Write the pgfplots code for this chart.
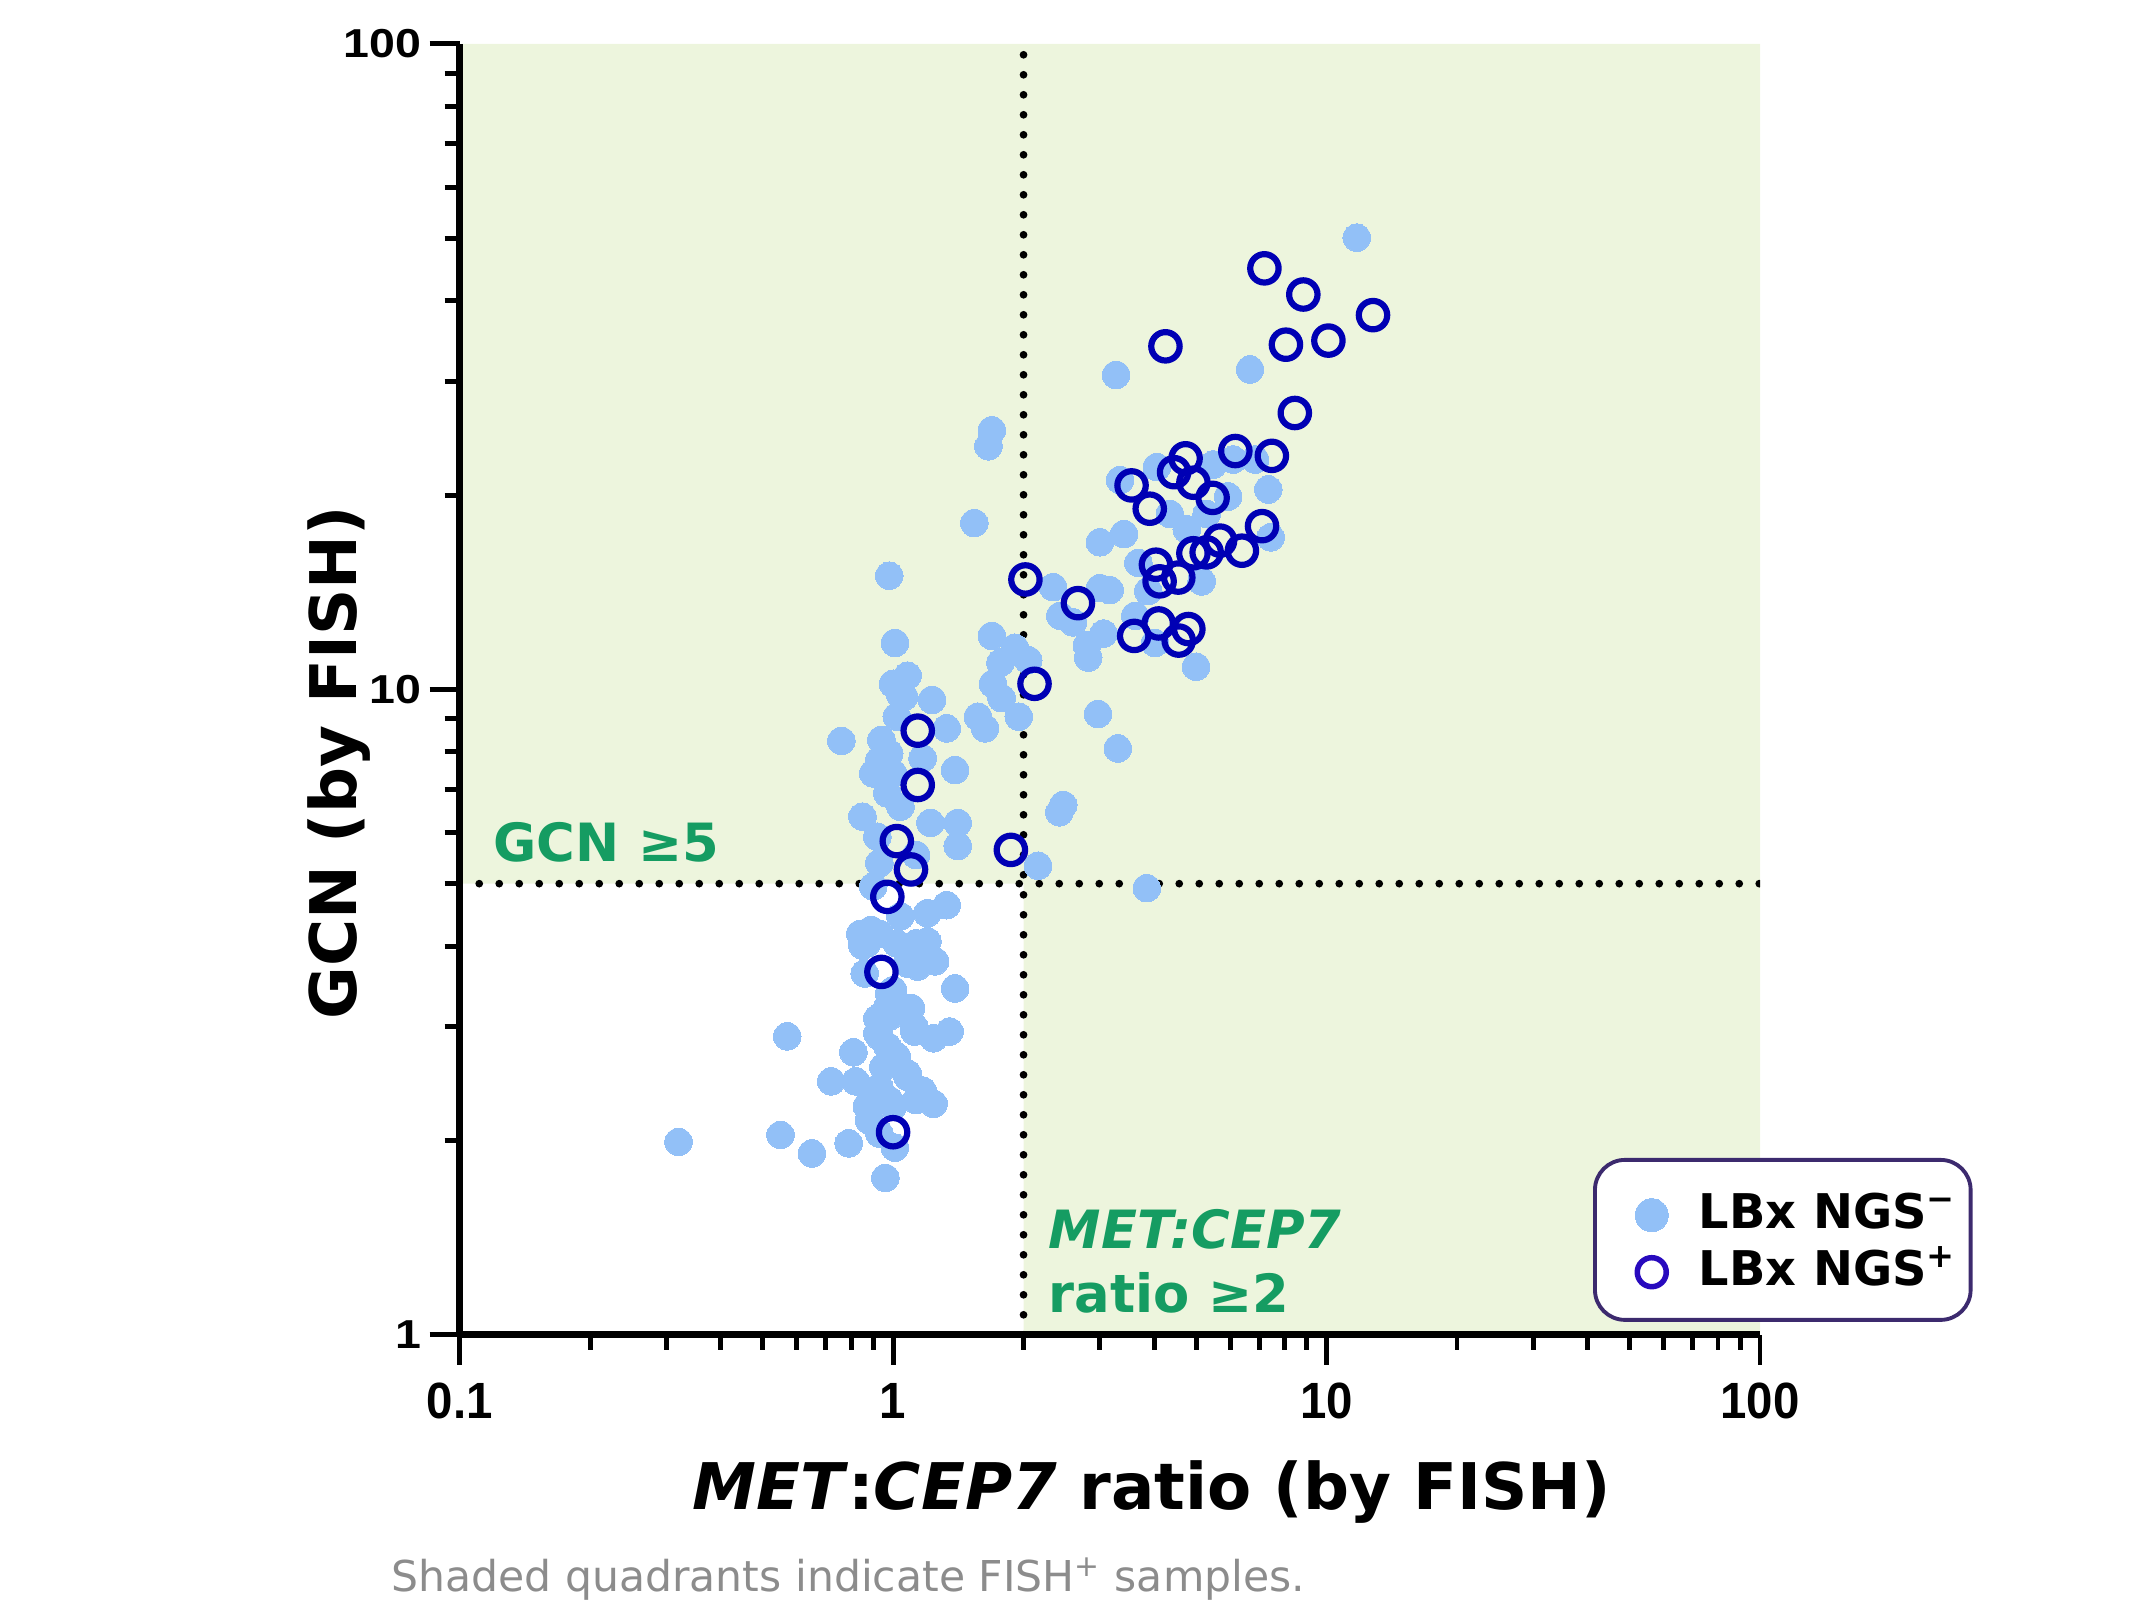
\documentclass[border=0pt]{standalone}
\usepackage{fontspec}
\setmainfont{DejaVu Sans}[BoldFont={DejaVu Sans Bold}, ItalicFont={DejaVu Sans Oblique}, BoldItalicFont={DejaVu Sans Bold Oblique}]
\newfontfamily\xarial{Liberation Sans}[FakeStretch=0.93]
\newfontfamily\yarial{Liberation Sans}[FakeStretch=1.15]
\usepackage{pgfplots}
\usepackage{pgfplotstable}
\pgfplotsset{compat=1.18}

\definecolor{shade}{RGB}{237,245,221}
\definecolor{ngsneg}{RGB}{146,192,247}
\definecolor{ngspos}{RGB}{0,0,180}
\definecolor{legpos}{RGB}{40,10,190}
\definecolor{legborder}{RGB}{60,42,110}
\definecolor{fishgreen}{RGB}{21,156,98}
\definecolor{footgray}{RGB}{140,140,140}

\newcommand\xtickfont{\xarial\bfseries\fontsize{14.5}{17}\selectfont}
\newcommand\ytickfont{\yarial\bfseries\fontsize{11.5}{13}\selectfont}
\newcommand\labfont{\bfseries\fontsize{18.3}{22}\selectfont}
\newcommand\annfont{\bfseries\fontsize{15}{18}\selectfont}

% LBx NGS- (filled)
\pgfplotstableread{
x y
0.32 1.99
0.55 2.04
0.65 1.91
0.79 1.98
0.96 1.75
0.57 2.90
0.72 2.47
0.81 2.74
0.82 2.47
1.01 1.95
0.88 2.15
1.24 2.28
1.17 2.39
1.08 2.54
0.93 2.42
0.87 2.26
0.98 2.31
1.35 2.95
1.24 2.88
1.12 2.95
0.97 2.80
0.93 2.90
1.10 3.21
0.98 3.11
0.92 3.09
1.39 3.44
0.86 3.63
1.00 3.42
0.87 4.04
0.89 4.24
1.20 4.07
1.25 3.79
1.14 3.72
1.33 4.63
1.20 4.50
1.04 4.45
1.13 4.04
1.02 4.04
0.93 4.18
1.08 3.76
0.98 3.38
0.97 3.22
1.12 3.00
0.92 2.93
1.02 2.70
0.95 2.60
1.08 2.51
1.00 2.26
0.90 2.31
1.13 2.31
0.93 2.05
0.84 4.18
0.85 4.01
0.98 15.0
1.01 11.8
1.08 10.5
1.00 10.2
1.06 9.74
1.23 9.63
1.02 9.07
1.33 8.70
0.76 8.32
0.94 8.35
0.98 7.96
1.17 7.82
1.39 7.50
1.00 7.41
0.97 6.90
0.85 6.35
1.04 6.58
1.22 6.21
1.41 6.21
1.41 5.72
0.92 5.91
0.93 5.38
0.90 4.95
1.13 5.54
0.90 7.41
0.93 7.77
1.04 9.80
1.69 12.1
1.91 11.6
1.77 11.0
2.05 11.1
1.70 10.2
1.78 9.69
1.57 9.07
1.63 8.70
1.95 9.07
2.97 9.16
3.30 8.10
2.47 6.62
2.42 6.45
2.16 5.33
3.85 4.92
2.34 14.4
3.00 14.35
2.43 13.0
2.60 12.7
3.06 12.2
2.80 11.7
2.82 11.2
3.27 30.7
6.66 31.3
4.06 22.1
3.34 21.1
5.48 22.3
6.09 22.7
6.84 22.7
7.34 20.4
5.93 19.9
5.29 18.7
4.35 18.7
4.76 17.7
3.00 16.9
3.41 17.4
3.68 15.7
7.43 17.2
5.15 14.7
3.88 14.2
3.16 14.25
3.62 13.0
4.02 11.8
5.00 10.84
1.69 25.2
1.66 23.8
1.54 18.1
11.74 50.1
}\negdata

% LBx NGS+ (open)
\pgfplotstableread{
x y
2.02 14.8
2.67 13.6
2.12 10.2
1.14 8.63
1.14 7.11
1.02 5.82
1.10 5.26
0.97 4.77
1.87 5.64
0.94 3.65
1.00 2.06
4.25 34.0
8.06 34.2
10.1 34.7
12.8 38.0
7.19 44.9
8.84 40.9
8.45 26.8
6.16 23.4
7.48 23.0
4.73 22.8
4.45 21.7
3.55 20.7
4.93 20.9
5.46 19.8
3.91 19.05
7.10 17.9
6.38 16.4
5.68 17.0
5.29 16.3
4.93 16.25
4.04 15.6
4.12 14.7
4.55 14.9
3.60 12.1
4.10 12.65
4.80 12.4
4.56 11.9
}\posdata

\begin{document}
\begin{tikzpicture}
\path[use as bounding box] (-45.96mm,-28.42mm) rectangle (169.14mm,133.48mm);
\begin{axis}[
  at={(0,0)}, anchor=south west,
  scale only axis, width=130.04mm, height=129.09mm,
  xmode=log, ymode=log,
  xmin=0.1, xmax=100, ymin=1, ymax=100,
  axis x line*=bottom, axis y line*=left,
  axis line style={line width=2pt, black},
  axis on top,
  tick style={line width=1.4pt, black},
  tick align=outside,
  major tick length=3mm, minor tick length=1.5mm,
  xtick={0.1,1,10,100}, xticklabels={0.1,1,10,100},
  ytick={1,10,100}, yticklabels={1,10,100},
  minor xtick={0.2,0.3,0.4,0.5,0.6,0.7,0.8,0.9,2,3,4,5,6,7,8,9,20,30,40,50,60,70,80,90},
  minor ytick={2,3,4,5,6,7,8,9,20,30,40,50,60,70,80,90},
  xticklabel style={font=\xtickfont, inner sep=0pt, anchor=north},
  yticklabel style={font=\ytickfont, inner sep=0pt, anchor=east},
  xticklabel shift=1.8mm, yticklabel shift=0.8mm,
  legend cell align=left,
  legend style={
    at={(axis description cs:0.8716,0.137)}, anchor=north west,
    draw=legborder, line width=1.1pt, rounded corners=3mm, fill=white,
    font=\bfseries\fontsize{13.6}{16}\selectfont,
    inner xsep=1.4mm, inner ysep=2.7mm,
    row sep=0.8mm, column sep=2.98mm,
    nodes={inner sep=0pt, text height=4.2mm, text depth=0.7mm},
  },
]
% shaded FISH+ quadrants
\addplot[fill=shade, draw=none, mark=none, forget plot]
  coordinates {(0.1,5) (2,5) (2,1) (100,1) (100,100) (0.1,100)};
% cut-off lines
\addplot[black, line width=2.2pt, line cap=round, dash pattern=on 0pt off 2mm, mark=none, forget plot]
  coordinates {(2,1) (2,100)};
\addplot[black, line width=2.2pt, line cap=round, dash pattern=on 0pt off 2mm, mark=none, forget plot]
  coordinates {(0.111,5) (100,5)};

\addplot[only marks, mark=*, mark size=1.38mm, draw=ngsneg, fill=ngsneg, line width=0pt,
  legend image code/.code={\path (0mm,0mm); \fill[ngsneg] (3.97mm,-0.38mm) circle (1.65mm);}]
  table[x=x, y=y] {\negdata};
\addlegendentry{LBx NGS\textsuperscript{−}}

\addplot[only marks, mark=o, mark size=1.42mm, draw=ngspos, line width=0.62mm,
  legend image code/.code={\path (0mm,0mm); \draw[legpos, line width=0.55mm] (3.97mm,-0.38mm) circle (1.45mm);}]
  table[x=x, y=y] {\posdata};
\addlegendentry{LBx NGS\textsuperscript{+}}
\end{axis}

\node[inner sep=0pt, anchor=base, font=\labfont] at (69.2mm,-17.5mm)
  {\textit{MET}:\textit{CEP7} ratio (by FISH)};
\node[inner sep=0pt, anchor=base, rotate=90, font=\labfont] at (-10.3mm,57.2mm)
  {GCN (by FISH)};
\node[inner sep=0pt, anchor=base west, font=\annfont, text=fishgreen] at (3.34mm,47.28mm)
  {GCN ≥5};
\node[inner sep=0pt, anchor=base west, font=\annfont, text=fishgreen] at (58.84mm,8.68mm)
  {\textit{MET:CEP7}};
\node[inner sep=0pt, anchor=base west, font=\annfont, text=fishgreen] at (58.84mm,2.28mm)
  {ratio ≥2};
\node[inner sep=0pt, anchor=base west, text=footgray, font=\fontsize{12.1}{14}\selectfont] at (-6.86mm,-25.69mm)
  {Shaded quadrants indicate FISH\textsuperscript{+} samples.};
\end{tikzpicture}
\end{document}
